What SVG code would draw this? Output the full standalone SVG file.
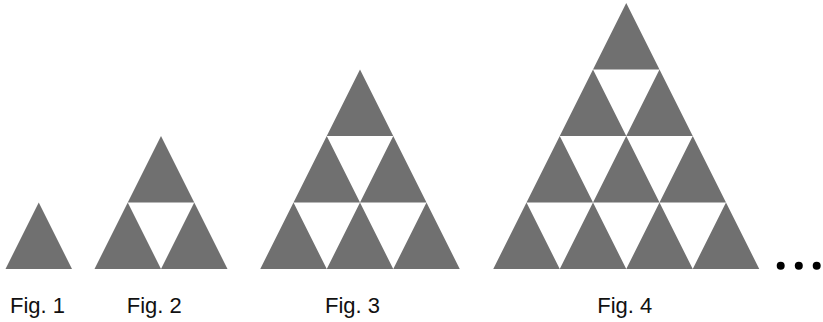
<svg xmlns="http://www.w3.org/2000/svg" width="823" height="322" viewBox="0 0 823 322">
<style>
.t{fill:#707070;stroke:none}
.lbl{font-family:"Liberation Sans",Arial,sans-serif;font-size:22px;fill:#111}
.dot{fill:#000}
</style>
<rect width="823" height="322" fill="#fff"/>
<g id="fig1">
<polygon class="t" points="38.75,202.5 5.5,269 72,269"/>
<text class="lbl" x="10" y="313">Fig. 1</text>
</g>
<g id="fig2">
<polygon class="t" points="161,136 127.75,202.5 194.25,202.5"/>
<polygon class="t" points="127.75,202.5 94.5,269 161,269"/>
<polygon class="t" points="194.25,202.5 161,269 227.5,269"/>
<text class="lbl" x="126.7" y="313">Fig. 2</text>
</g>
<g id="fig3">
<polygon class="t" points="360,69.5 326.75,136 393.25,136"/>
<polygon class="t" points="326.75,136 293.5,202.5 360,202.5"/>
<polygon class="t" points="393.25,136 360,202.5 426.5,202.5"/>
<polygon class="t" points="293.5,202.5 260.25,269 326.75,269"/>
<polygon class="t" points="360,202.5 326.75,269 393.25,269"/>
<polygon class="t" points="426.5,202.5 393.25,269 459.75,269"/>
<text class="lbl" x="325" y="313">Fig. 3</text>
</g>
<g id="fig4">
<polygon class="t" points="626.25,3 593,69.5 659.5,69.5"/>
<polygon class="t" points="593,69.5 559.75,136 626.25,136"/>
<polygon class="t" points="659.5,69.5 626.25,136 692.75,136"/>
<polygon class="t" points="559.75,136 526.5,202.5 593,202.5"/>
<polygon class="t" points="626.25,136 593,202.5 659.5,202.5"/>
<polygon class="t" points="692.75,136 659.5,202.5 726,202.5"/>
<polygon class="t" points="526.5,202.5 493.25,269 559.75,269"/>
<polygon class="t" points="593,202.5 559.75,269 626.25,269"/>
<polygon class="t" points="659.5,202.5 626.25,269 692.75,269"/>
<polygon class="t" points="726,202.5 692.75,269 759.25,269"/>
<text class="lbl" x="597.3" y="313">Fig. 4</text>
</g>
<g id="ellipsis">
<circle class="dot" cx="780.7" cy="265.7" r="4"/>
<circle class="dot" cx="798.8" cy="265.7" r="4"/>
<circle class="dot" cx="816.7" cy="265.7" r="4"/>
</g>
<g id="connectors"/>
</svg>
